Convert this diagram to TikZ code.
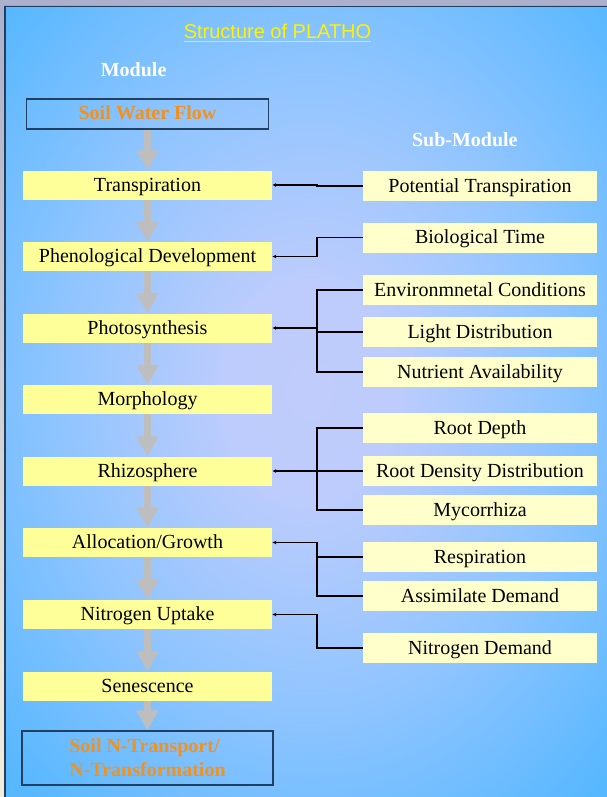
\documentclass[tikz,border=0pt]{standalone}
\usepackage{fontspec}
\setmainfont{Liberation Serif}
\newfontfamily\arialf{Liberation Sans}
\usetikzlibrary{arrows.meta,calc}
\definecolor{bgblue}{HTML}{58B8FF}
\definecolor{modfill}{HTML}{FFFF99}
\definecolor{subfill}{HTML}{FFFFCC}
\definecolor{flowgray}{HTML}{BEBEBE}
\definecolor{orangetxt}{HTML}{F2921E}
\definecolor{framedark}{HTML}{21405F}
\definecolor{lavstrip}{HTML}{ADB0CC}
\definecolor{creamstrip}{HTML}{F3EEDB}
\pgfdeclareradialshading{bgshade}{\pgfpoint{0bp}{0bp}}{rgb(0bp)=(0.75,0.80,0.99); rgb(5bp)=(0.74,0.80,0.99); rgb(15bp)=(0.56,0.77,1); rgb(25bp)=(0.345,0.72,1); rgb(50bp)=(0.345,0.72,1)}
\tikzset{
  txt/.style={font=\fontsize{20}{24}\selectfont, text height=15pt, text depth=3pt},
  modbox/.style={txt, fill=modfill, minimum width=249pt, minimum height=29pt, inner sep=0pt},
  subbox/.style={txt, fill=subfill, minimum width=234pt, minimum height=30pt, inner sep=0pt},
  endbox/.style={draw=framedark, line width=1.2pt, inner sep=0pt, text=orangetxt, font=\bfseries\fontsize{20}{24}\selectfont},
  flow/.style={draw=flowgray, line width=7pt, -{Triangle[length=20pt,width=21pt]}},
  wire/.style={draw=black, line width=1.2pt},
  link/.style={wire, -{Latex[length=4pt,width=4pt]}},
  headtxt/.style={anchor=base, inner sep=0pt, text=white, font=\bfseries\fontsize{20}{24}\selectfont}
}
\begin{document}
\begin{tikzpicture}[x=1pt,y=-1pt]
\useasboundingbox (0,0) rectangle (607,797);
% frame and background
\fill[lavstrip] (0,0) rectangle (607,6);
\shade[top color=lavstrip, bottom color=creamstrip] (0,6) rectangle (4,797);
\begin{scope}
  \clip (4,6) rectangle (607,797);
  \fill[bgblue] (4,6) rectangle (607,797);
  \shade[shading=bgshade] (-114,-147) rectangle (734,927);
\end{scope}
\draw[framedark, line width=1.5pt] (4.75,797) -- (4.75,6.75) -- (607,6.75);

% headings
\node[anchor=base, inner sep=0pt, text=yellow, font=\arialf\fontsize{20}{24}\selectfont] (title) at (277.5,39) {Structure of PLATHO};
\draw[yellow, line width=1.6pt] ([yshift=-2.5pt]title.base west) -- ([yshift=-2.5pt]title.base east);
\node[headtxt] (modh) at (133.6,77) {Module};
\node[headtxt] (subh) at (464.8,146.7) {Sub-Module};

% module column
\node[endbox, minimum width=242pt, minimum height=30pt, text height=15pt, text depth=3pt] (swf) at (147.5,114) {Soil Water Flow};
\node[modbox] (tr) at (147.5,185) {Transpiration};
\node[modbox] (ph) at (147.5,256.5) {Phenological Development};
\node[modbox] (ps) at (147.5,328) {Photosynthesis};
\node[modbox] (mo) at (147.5,399.5) {Morphology};
\node[modbox] (rh) at (147.5,471) {Rhizosphere};
\node[modbox] (al) at (147.5,542.5) {Allocation/Growth};
\node[modbox] (nu) at (147.5,614.5) {Nitrogen Uptake};
\node[modbox] (se) at (147.5,686) {Senescence};
\node[endbox, minimum width=251pt, minimum height=54pt, align=left, font=\bfseries\fontsize{20}{24}\selectfont] (snt) at (147.5,758) {Soil N-Transport/\\N-Transformation};

% flow arrows
\draw[flow] (swf.south) -- (tr.north);
\draw[flow] (tr.south) -- (ph.north);
\draw[flow] (ph.south) -- (ps.north);
\draw[flow] (ps.south) -- (mo.north);
\draw[flow] (mo.south) -- (rh.north);
\draw[flow] (rh.south) -- (al.north);
\draw[flow] (al.south) -- (nu.north);
\draw[flow] (nu.south) -- (se.north);
\draw[flow] (se.south) -- (snt.north);

% sub-modules
\node[subbox] (pt) at (480,186) {Potential Transpiration};
\node[subbox] (bt) at (480,237.5) {Biological Time};
\node[subbox] (env) at (480,290) {Environmnetal Conditions};
\node[subbox] (ld) at (480,332) {Light Distribution};
\node[subbox] (nut) at (480,372) {Nutrient Availability};
\node[subbox] (rd) at (480,428) {Root Depth};
\node[subbox] (rdd) at (480,471) {Root Density Distribution};
\node[subbox] (my) at (480,510) {Mycorrhiza};
\node[subbox] (re) at (480,557) {Respiration};
\node[subbox] (as) at (480,596) {Assimilate Demand};
\node[subbox] (nd) at (480,648) {Nitrogen Demand};

% connectors
\coordinate (jx) at (317,0);
\draw[link] (pt.west) -- (pt.west -| jx) |- (tr.east);
\draw[link] (bt.west) -- (bt.west -| jx) |- (ph.east);
\draw[wire] (env.west) -| (ps.east -| jx);
\draw[wire] (nut.west) -| (ps.east -| jx);
\draw[wire] (ld.west) -- (ld.west -| jx);
\draw[link, line width=2pt] (ps.east -| jx) -- (ps.east);
\draw[wire] (rd.west) -| (rh.east -| jx);
\draw[wire] (my.west) -| (rh.east -| jx);
\draw[link] (rdd.west) -- (rh.east);
\draw[link] (as.west) -| (al.east -| jx) -- (al.east);
\draw[wire] (re.west) -- (re.west -| jx);
\draw[link] (nd.west) -| (nu.east -| jx) -- (nu.east);
\end{tikzpicture}
\end{document}
